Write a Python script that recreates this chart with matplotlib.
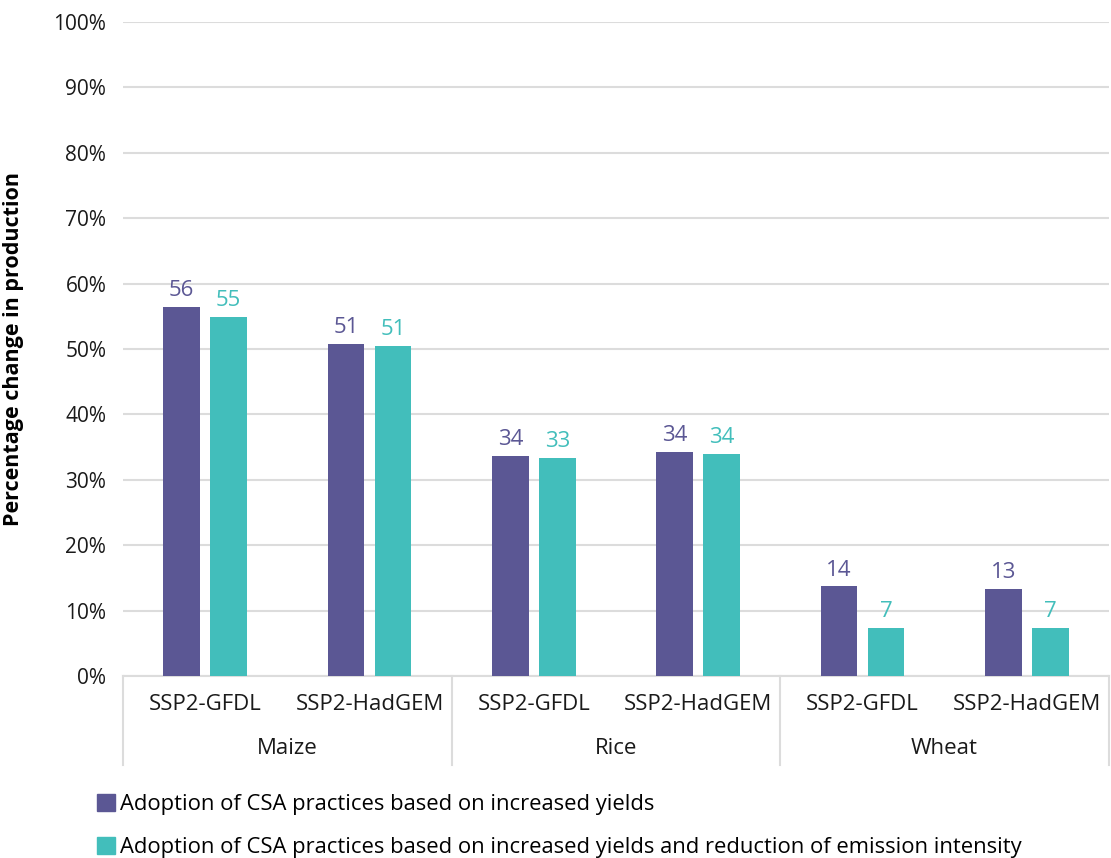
import matplotlib.pyplot as plt
import matplotlib.transforms as mtransforms
from matplotlib.patches import Patch
import numpy as np

crops = ["Maize", "Rice", "Wheat"]
scenarios = ["SSP2-GFDL", "SSP2-HadGEM"]
series_names = ["Adoption of CSA practices based on increased yields",
                "Adoption of CSA practices based on increased yields and reduction of emission intensity"]
yields_only = [56.4, 50.8, 33.7, 34.3, 13.7, 13.3]
yields_emis = [54.9, 50.5, 33.3, 34.0, 7.3, 7.3]
labels_only = ["56", "51", "34", "34", "14", "13"]
labels_emis = ["55", "51", "33", "34", "7", "7"]
yticks = [0, 10, 20, 30, 40, 50, 60, 70, 80, 90, 100]

purple = "#5B5794"
teal = "#42BEBB"
grey = "#DCDCDC"
fs = 16

plt.rcParams['font.family'] = ['Open Sans', 'DejaVu Sans']

fig = plt.figure(figsize=(11.11, 8.58), dpi=100)
ax = fig.add_axes([123/1111, 1 - 676/858, (1109-123)/1111, (676-22)/858])

n = len(crops) * len(scenarios)
x = np.arange(n)
w = 0.225
off = 0.143
ax.bar(x - off, yields_only, w, color=purple, zorder=3)
ax.bar(x + off, yields_emis, w, color=teal, zorder=3)

for i in range(n):
    ax.text(x[i] - off, yields_only[i] + 0.9, labels_only[i], ha='center', va='bottom',
            color=purple, fontsize=fs)
    ax.text(x[i] + off, yields_emis[i] + 0.9, labels_emis[i], ha='center', va='bottom',
            color=teal, fontsize=fs)

ax.set_xlim(-0.5, n - 0.5)
ax.set_ylim(0, 100)
ax.set_yticks(yticks)
ax.set_yticklabels([f"{t}%" for t in yticks], fontsize=15, color="#1a1a1a")
ax.tick_params(axis='y', length=0, pad=12)
ax.tick_params(axis='x', length=0, labelbottom=False)
ax.grid(axis='y', color=grey, linewidth=1.5, zorder=0)
for s in ['top', 'right', 'left']:
    ax.spines[s].set_visible(False)
ax.spines['bottom'].set_color(grey)
ax.spines['bottom'].set_linewidth(1.5)

# two-level category axis
trans = mtransforms.blended_transform_factory(ax.transData, ax.transAxes)
ax_h = (676 - 22)
for i in range(n):
    ax.text(x[i], -(705 - 676) / ax_h, scenarios[i % 2], transform=trans,
            ha='center', va='center', fontsize=fs, color="#1a1a1a")
for j, c in enumerate(crops):
    ax.text(2 * j + 0.5, -(749 - 676) / ax_h, c, transform=trans,
            ha='center', va='center', fontsize=fs, color="#1a1a1a")
for b in [-0.5, 1.5, 3.5, 5.5]:
    ax.plot([b, b], [0, -(765 - 676) / ax_h], transform=trans, color=grey,
            linewidth=1.5, clip_on=False)

ax.set_ylabel("Percentage change in production", fontsize=15.5, fontweight='bold')
ax.yaxis.set_label_coords(-(123 - 24) / (1109 - 123), 0.5)

handles = [Patch(color=purple), Patch(color=teal)]
fig.legend(handles, series_names, loc='upper left', bbox_to_anchor=(97/1111, 1 - 794/858),
           frameon=False, fontsize=15.8, handlelength=0.8, handleheight=0.8,
           handletextpad=0.25, labelspacing=1.0, borderaxespad=0, borderpad=0)

fig.savefig("out.png", dpi=100)
